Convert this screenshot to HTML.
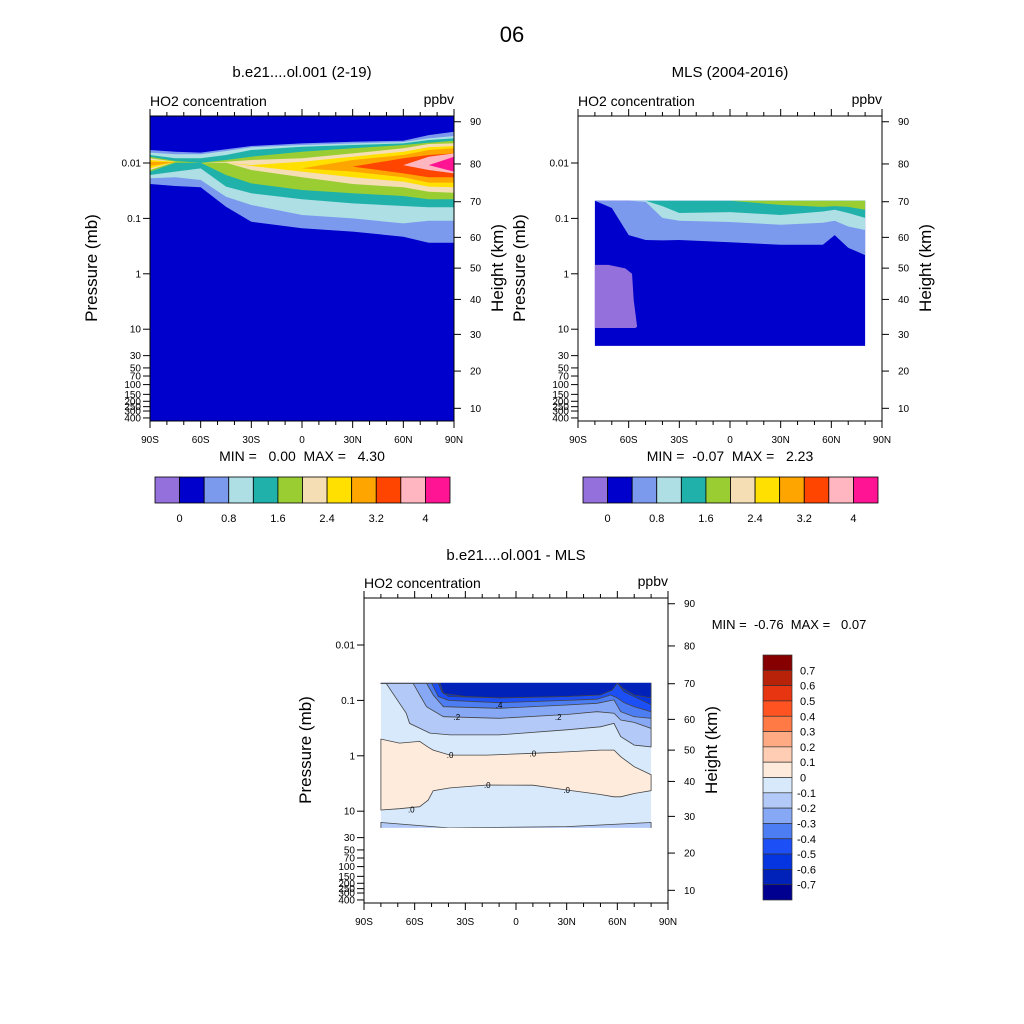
<!DOCTYPE html>
<html><head><meta charset="utf-8"><style>
body{margin:0;background:#fff}
svg{display:block;font-family:"Liberation Sans",sans-serif}
text{white-space:pre}
</style></head><body>
<svg id="s" width="1024" height="1024" viewBox="0 0 1024 1024" xmlns="http://www.w3.org/2000/svg">
<rect width="1024" height="1024" fill="#fff"/>
<text x="512" y="42" font-size="22" text-anchor="middle">06</text>
</svg>
<script>
const NS='http://www.w3.org/2000/svg';
const svg=document.getElementById('s');
// ---------- data ----------
const presTicks=[0.01,0.1,1,10,30,50,70,100,150,200,250,300,400];
const presTickLabels=['0.01','0.1','1','10','30','50','70','100','150','200','250','300','400'];
const heightTicks=[90,80,70,60,50,40,30,20,10];
const heightTickPres=[0.0018,0.0104,0.050,0.22,0.79,2.9,12.4,57,268];
const latTicks=[-90,-60,-30,0,30,60,90];
const latTickLabels=['90S','60S','30S','0','30N','60N','90N'];
// panel 1 (model)
const m1Lats=[-90,-75,-60,-45,-30,0,30,60,75,90];
const m1Colors=['#7B9AEE','#AEDFE5','#20B2AA','#9ACD32','#F5DEB3','#FFE000','#FFA500','#FF4500','#FFB6C1','#FF1493'];
const m1Top=[
[0.00582,0.00624,0.0065,0.00566,0.00494,0.00442,0.00412,0.00395,0.00313,0.00272],
[0.0065,0.00698,0.00698,0.00607,0.00521,0.00474,0.00442,0.00418,0.00359,0.00326],
[0.00718,0.00824,0.00824,0.00718,0.00582,0.00507,0.00474,0.00442,0.00385,0.00359],
[0.00769,0.0092,0.00986,0.00883,0.00769,0.00624,0.00543,0.00474,0.0043,0.00395],
[0.00824,0.00946,0.0101,0.00946,0.00883,0.00824,0.0067,0.00543,0.00454,0.00442],
[0.00883,0.00946,0.0101,0.00986,0.0109,0.00946,0.00769,0.00624,0.00521,0.00494],
[0.00946,0.00973,0.0101,0.0109,0.0109,0.0125,0.00883,0.00718,0.00582,0.00543],
[0.0101,0.0101,0.0101,0.0101,0.0101,0.0125,0.0116,0.00824,0.00718,0.0067],
[0.0113,0.0113,0.0113,0.0113,0.0113,0.0113,0.0113,0.0109,0.00769,0.0067],
[0.0109,0.0109,0.0109,0.0109,0.0109,0.0109,0.0109,0.0109,0.0109,0.00769]];
const m1Bot=[
[0.0239,0.026,0.0275,0.0614,0.115,0.151,0.173,0.214,0.274,0.274],
[0.0189,0.0181,0.0203,0.0405,0.0573,0.0869,0.0998,0.123,0.11,0.11],
[0.0165,0.0143,0.0125,0.0267,0.0353,0.0453,0.0535,0.0597,0.0631,0.0631],
[0.0143,0.00986,0.00986,0.0165,0.0233,0.0307,0.0353,0.0394,0.0453,0.0453],
[0.0134,0.00946,0.0101,0.00986,0.0134,0.0181,0.0239,0.0275,0.0329,0.0343],
[0.0125,0.00946,0.0101,0.00986,0.0113,0.0143,0.0181,0.0217,0.0267,0.0275],
[0.0113,0.00973,0.0101,0.0109,0.0109,0.0125,0.0143,0.0181,0.0226,0.0226],
[0.0101,0.0101,0.0101,0.0101,0.0101,0.0125,0.0116,0.0154,0.0181,0.0181],
[0.0113,0.0113,0.0113,0.0113,0.0113,0.0113,0.0113,0.0109,0.0134,0.0154],
[0.0109,0.0109,0.0109,0.0109,0.0109,0.0109,0.0109,0.0109,0.0109,0.0143]];
// panel 2 (MLS)
const m2LatRange=[-80,80];
const m2PresRange=[0.048,20];
const m2Lats=[-80,-70,-60,-50,-40,-30,0,30,55,62,70,80];
const m2Colors=['#7B9AEE','#AEDFE5','#20B2AA','#9ACD32'];
const m2Bot=[
[0.048,0.065,0.2,0.245,0.25,0.245,0.27,0.3,0.3,0.2,0.34,0.46],
[0.048,0.048,0.048,0.05,0.098,0.11,0.116,0.13,0.12,0.11,0.14,0.162],
[0.048,0.048,0.048,0.048,0.06,0.08,0.077,0.087,0.075,0.07,0.08,0.098],
[0.048,0.048,0.048,0.048,0.048,0.048,0.048,0.057,0.062,0.06,0.062,0.07]];
const m2PurplePres=[0.69,0.8,1,3,9,9.5];
const m2PurpleLat=[-72,-62,-58,-57,-55,-56];
// panel 3 (difference)
const dLats=[-80,-69,-57,-52,-49,-39,-17,10,30,50,58,62,70,80];
const dPosTop=[0.5,0.59,0.55,0.7,0.79,0.97,0.97,0.9,0.85,0.79,0.79,1.04,1.57,2.2];
const dPosBot=[9.5,9.0,8.3,6.3,4.26,3.8,3.37,3.4,4.14,5.0,5.5,5.5,4.8,4.26];
const dLowLats=[-80,-40,30,80];
const dLowTop=[16,20,19,16];
const dNegLats=[
[-80,-77,-65,-63,-51,-39,-10,30,50,58,62,70,80],
[-80,-61,-53,-43,-10,30,48,58,62,70,80],
[-80,-53,-49,-43,-10,30,48,58,62,70,80],
[-80,-50,-46,-40,-10,30,48,56,60,64,70,80],
[-80,-46,-44,-40,-10,30,48,56,60,64,80],
[-80,-45,-43,-30,-10,30,50,57,60,63,70,80]];
const dNegBot=[
[0.049,0.049,0.17,0.26,0.39,0.42,0.42,0.34,0.30,0.26,0.45,0.64,0.69],
[0.049,0.049,0.13,0.197,0.21,0.18,0.16,0.17,0.226,0.25,0.32],
[0.049,0.049,0.08,0.13,0.139,0.121,0.113,0.098,0.16,0.197,0.21],
[0.049,0.049,0.085,0.1,0.11,0.1,0.095,0.08,0.09,0.11,0.13,0.16],
[0.049,0.049,0.07,0.085,0.09,0.085,0.08,0.06,0.049,0.07,0.12],
[0.049,0.049,0.075,0.085,0.09,0.085,0.08,0.065,0.049,0.06,0.08,0.09]];
const dNegColors=['#B3CAF8','#87A8F5','#4D7DF2','#1C4FF6','#0535E0','#0022B8'];
const cbTopColors=['#9370DB','#0000CD','#7B9AEE','#AEDFE5','#20B2AA','#9ACD32','#F5DEB3','#FFE000','#FFA500','#FF4500','#FFB6C1','#FF1493'];
const cbTopLabels=['0','0.8','1.6','2.4','3.2','4'];
const cbDiffColors=['#870000','#B82208','#E63510','#FF5422','#FF7A45','#FFAA82','#FFCDB4','#FFEBDC','#D7E9FB','#B3CAF8','#87A8F5','#4D7DF2','#1C4FF6','#0535E0','#0022B8','#000090'];
const cbDiffLabels=['0.7','0.6','0.5','0.4','0.3','0.2','0.1','0','-0.1','-0.2','-0.3','-0.4','-0.5','-0.6','-0.7'];
// ---------- helpers ----------
function el(tag,attrs,parent){const e=document.createElementNS(NS,tag);for(const k in attrs)e.setAttribute(k,attrs[k]);(parent||svg).appendChild(e);return e;}
function txt(x,y,s,size,anchor,parent,extra){const t=el('text',Object.assign({x:x,y:y,'font-size':size,'text-anchor':anchor||'start',fill:'#000'},extra||{}),parent);t.textContent=s;return t;}
function mkAxes(x0,y0){const W=304,H=305;return{x0,y0,W,H,X:lat=>x0+(lat+90)/180*W,Y:p=>y0+47+(Math.log10(p)+2)*55.4};}
function bandPts(A,lats,top,bot){const a=lats.map((l,i)=>A.X(l).toFixed(1)+','+A.Y(top[i]).toFixed(1));const b=lats.map((l,i)=>A.X(l).toFixed(1)+','+A.Y(bot[i]).toFixed(1)).reverse();return a.concat(b).join(' ');}
function frame(A,g){
  el('rect',{x:A.x0,y:A.y0,width:A.W,height:A.H,fill:'none',stroke:'#000','stroke-width':1},g);
  for(let l=-90;l<=90;l+=10){const x=A.X(l),maj=l%30===0,L=maj?7:4;
    el('line',{x1:x,x2:x,y1:A.y0+A.H,y2:A.y0+A.H+L,stroke:'#000'},g);
    el('line',{x1:x,x2:x,y1:A.y0,y2:A.y0-L,stroke:'#000'},g);}
  latTicks.forEach((l,i)=>{const t=txt(A.X(l),A.y0+A.H+22,latTickLabels[i],10,'middle',g);
    
    });
  presTicks.forEach((p,i)=>{const y=A.Y(p);el('line',{x1:A.x0,x2:A.x0-7,y1:y,y2:y,stroke:'#000'},g);
    const t=txt(A.x0-9,y+3.5,presTickLabels[i],10,'end',g);
    
    });
  heightTicks.forEach((h,i)=>{const y=A.Y(heightTickPres[i]);el('line',{x1:A.x0+A.W,x2:A.x0+A.W+7,y1:y,y2:y,stroke:'#000'},g);
    const t=txt(A.x0+A.W+16,y+3.5,String(h),10,'start',g);
    
    });
  const a=txt(A.x0,A.y0-10,'HO2 concentration',14,'start',g);
  const b=txt(A.x0+A.W,A.y0-12,'ppbv',14,'end',g);
  const cy=A.y0+152;
  const lx=A.x0-53, rx=A.x0+A.W+49;
  const yl=txt(lx,cy,'Pressure (mb)',17,'middle',g,{transform:`rotate(-90 ${lx} ${cy})`});
  const yr=txt(rx,cy,'Height (km)',17,'middle',g,{transform:`rotate(-90 ${rx} ${cy})`});
}
function clip(A,id){const d=el('defs',{});const c=el('clipPath',{id:id},d);el('rect',{x:A.x0,y:A.y0,width:A.W,height:A.H},c);}
// ---------- panel 1 ----------
{const A=mkAxes(150,116);clip(A,'c1');
 const g=el('g',{});
 const f=el('g',{'clip-path':'url(#c1)'},g);
 el('rect',{x:A.x0,y:A.y0,width:A.W,height:A.H,fill:'#0000CD'},f);
 m1Colors.forEach((c,k)=>{const p=el('polygon',{points:bandPts(A,m1Lats,m1Top[k],m1Bot[k]),fill:c},f);
   
   });
 frame(A,g);
 const t=txt(302,77,'b.e21....ol.001 (2-19)',15,'middle',g);
 const m=txt(302,461,'MIN =   0.00  MAX =   4.30',14,'middle',g);
}
// ---------- panel 2 ----------
{const A=mkAxes(578,116);clip(A,'c2');
 const g=el('g',{});
 const f=el('g',{'clip-path':'url(#c2)'},g);
 const r=el('rect',{x:A.X(m2LatRange[0]),y:A.Y(m2PresRange[0]),width:A.X(m2LatRange[1])-A.X(m2LatRange[0]),height:A.Y(m2PresRange[1])-A.Y(m2PresRange[0]),fill:'#0000CD'},f);
 
 const top=m2Lats.map(()=>m2PresRange[0]);
 m2Colors.forEach((c,k)=>{const p=el('polygon',{points:bandPts(A,m2Lats,top,m2Bot[k]),fill:c},f);
   
   });
 const pts=[A.X(m2LatRange[0])+','+A.Y(m2PurplePres[0])].concat(m2PurplePres.map((p,i)=>A.X(m2PurpleLat[i])+','+A.Y(p))).concat([A.X(m2LatRange[0])+','+A.Y(m2PurplePres[m2PurplePres.length-1])]);
 const pp=el('polygon',{points:pts.join(' '),fill:'#9370DB'},f);
 frame(A,g);
 const t=txt(730,77,'MLS (2004-2016)',15,'middle',g);
 const m=txt(730,461,'MIN =  -0.07  MAX =   2.23',14,'middle',g);
}
// top colorbars
[[155,'model-colorbar'],[583,'mls-colorbar']].forEach(([x0,name])=>{
 const g=el('g',{});
 const w=295/cbTopColors.length;
 cbTopColors.forEach((c,i)=>{const r=el('rect',{x:x0+i*w,y:477,width:w,height:26,fill:c,stroke:'#000','stroke-width':0.8},g);
   });
 cbTopLabels.forEach((s,i)=>{const t=txt(x0+(1+2*i)*w,522,s,11,'middle',g);});
});
// ---------- panel 3 ----------
{const A=mkAxes(364,598);clip(A,'c3');
 const g=el('g',{});
 const f=el('g',{'clip-path':'url(#c3)'},g);
 const P0=m2PresRange[0],P1=m2PresRange[1];
 const r=el('rect',{x:A.X(-80),y:A.Y(P0),width:A.X(80)-A.X(-80),height:A.Y(P1)-A.Y(P0),fill:'#D7E9FB'},f);
 
 const lineStyle={stroke:'#444','stroke-width':0.8};
 const pb=el('polygon',Object.assign({points:bandPts(A,dLats,dPosTop,dPosBot),fill:'#FFEBDC'},lineStyle),f);
 
 const lb=el('polygon',Object.assign({points:bandPts(A,dLowLats,dLowTop,dLowLats.map(()=>P1+2)),fill:'#B3CAF8'},lineStyle),f);
 
 dNegColors.forEach((c,k)=>{const lats=dNegLats[k];
   const p=el('polygon',Object.assign({points:bandPts(A,lats,lats.map(()=>P0-0.003),dNegBot[k]),fill:c},lineStyle),f);
   
   });
 el('rect',{x:A.X(-80)-2,y:A.Y(P0)-8,width:A.X(80)-A.X(-80)+4,height:8,fill:'#fff'},f);
 el('rect',{x:A.X(-80)-6,y:A.Y(P1),width:A.X(80)-A.X(-80)+12,height:10,fill:'#fff'},f);
 const labs=[['.0',-39,dPosTop[5]],['.0',10,dPosTop[7]],['.0',-17,dPosBot[6]],['.0',30,dPosBot[8]],['.0',-62,9.3],['.2',-35,0.2],['.2',25,0.2],['.4',-10,0.12]];
 labs.forEach(([s,l,p])=>{const t=txt(A.X(l),A.Y(p)+3,s,8,'middle',f);});
 frame(A,g);
 const t=txt(516,560,'b.e21....ol.001 - MLS',15,'middle',g);
 const m=txt(789,629,'MIN =  -0.76  MAX =   0.07',13,'middle',g);
 const cb=el('g',{});
 const h=245/cbDiffColors.length;
 cbDiffColors.forEach((c,i)=>{const rr=el('rect',{x:763,y:655+i*h,width:29,height:h,fill:c,stroke:'#333','stroke-width':0.7},cb);
   });
 cbDiffLabels.forEach((s,i)=>{const tt=txt(s[0]==='-'?797:800,655+(i+1)*h+4,s,11,'start',cb);});
}
</script>
</body></html>
